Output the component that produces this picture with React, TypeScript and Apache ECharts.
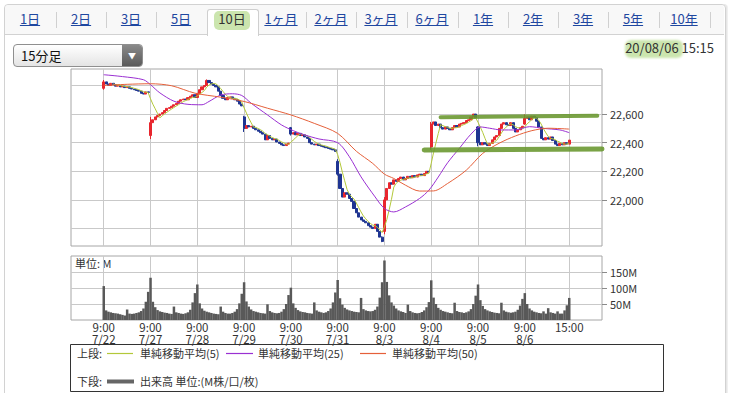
import React, { useEffect, useRef } from "react";
import * as echarts from "echarts";

// ---------- data ----------
const dayLabels = ["7/22", "7/27", "7/28", "7/29", "7/30", "7/31", "8/3", "8/4", "8/5", "8/6"];
const openTime = "9:00";
const closeTime = "15:00";
const barsPerDay = 20;
const padBefore = 14;
const padAfter = 14;

const dayOpens = [22780, 22450, 22716, 22580, 22505, 22270, 21780, 22370, 22510, 22530];

const close0722 = [22825, 22810, 22800, 22815, 22805, 22795, 22800, 22790, 22795, 22785, 22790, 22780, 22775, 22770, 22765, 22760, 22745, 22740, 22755, 22752];
const close0727 = [22540, 22560, 22580, 22590, 22600, 22610, 22625, 22640, 22645, 22655, 22665, 22675, 22690, 22700, 22705, 22700, 22715, 22725, 22735, 22716];
const close0728 = [22745, 22770, 22790, 22800, 22835, 22820, 22810, 22800, 22790, 22760, 22730, 22710, 22700, 22715, 22720, 22710, 22700, 22690, 22670, 22657];
const close0729 = [22500, 22520, 22510, 22515, 22500, 22490, 22480, 22470, 22460, 22420, 22450, 22430, 22420, 22425, 22405, 22395, 22385, 22380, 22390, 22397];
const close0730 = [22460, 22470, 22455, 22465, 22450, 22455, 22440, 22430, 22400, 22390, 22385, 22390, 22380, 22375, 22370, 22365, 22360, 22355, 22350, 22339];
const close0731 = [22180, 22080, 22020, 22050, 22040, 22010, 21990, 21940, 21910, 21880, 21860, 21850, 21840, 21820, 21810, 21800, 21830, 21780, 21740, 21710];
const close0803 = [22000, 22080, 22120, 22110, 22140, 22130, 22150, 22160, 22140, 22150, 22165, 22155, 22170, 22160, 22175, 22180, 22170, 22185, 22200, 22195];
const close0804 = [22530, 22545, 22520, 22530, 22505, 22495, 22510, 22500, 22490, 22505, 22520, 22510, 22530, 22535, 22540, 22555, 22560, 22580, 22600, 22574];
const close0805 = [22400, 22385, 22400, 22390, 22380, 22395, 22420, 22440, 22450, 22500, 22530, 22540, 22525, 22520, 22540, 22500, 22475, 22490, 22505, 22515];
const close0806 = [22570, 22580, 22560, 22585, 22575, 22550, 22510, 22430, 22420, 22435, 22425, 22440, 22415, 22390, 22380, 22395, 22385, 22400, 22390, 22418];

// [bar index, low, high] for bars with visible wicks
const wicks = [
  [0, 22770, 22838], [20, 22425, 22580], [44, 22800, 22842], [60, 22475, 22588],
  [80, 22450, 22510], [100, 22170, 22285], [119, 21705, 21745], [120, 21760, 22020],
  [140, 22350, 22545], [160, 22375, 22515], [180, 22525, 22598],
];

const vol0722 = [106, 30, 26, 24, 22, 21, 20, 18, 16, 14, 33, 20, 19, 20, 22, 24, 28, 36, 57, 88];
const vol0727 = [132, 57, 40, 31, 27, 25, 23, 22, 20, 19, 42, 24, 22, 20, 19, 21, 24, 32, 55, 84];
const vol0728 = [111, 52, 36, 29, 26, 24, 22, 20, 19, 18, 42, 26, 22, 20, 20, 22, 26, 34, 52, 82];
const vol0729 = [118, 58, 42, 33, 28, 26, 24, 22, 21, 20, 49, 28, 24, 22, 21, 22, 26, 34, 50, 78];
const vol0730 = [101, 52, 38, 31, 27, 25, 24, 22, 21, 20, 55, 30, 26, 24, 22, 24, 28, 36, 55, 86];
const vol0731 = [125, 68, 48, 38, 33, 30, 28, 26, 25, 24, 69, 34, 30, 28, 27, 28, 32, 42, 70, 118];
const vol0803 = [186, 119, 77, 55, 45, 36, 30, 27, 25, 22, 48, 28, 24, 22, 21, 22, 25, 30, 40, 56];
const vol0804 = [124, 70, 50, 38, 32, 28, 26, 24, 22, 21, 54, 28, 25, 24, 22, 24, 27, 34, 50, 76];
const vol0805 = [111, 62, 44, 34, 30, 27, 25, 23, 22, 21, 54, 30, 26, 24, 23, 24, 26, 32, 45, 66];
const vol0806 = [84, 50, 36, 30, 26, 24, 22, 21, 27, 20, 37, 24, 22, 20, 27, 20, 20, 30, 46, 69];

// moving averages: [bar index, value]
const ma25Points = [
  [0, 22875], [8, 22862], [17, 22840], [20, 22805], [24, 22748], [30, 22690], [36, 22668],
  [42, 22665], [45, 22688], [50, 22733], [55, 22742], [59, 22730], [63, 22676], [70, 22594],
  [76, 22524], [81, 22484], [86, 22454], [92, 22426], [100, 22400], [105, 22302], [110, 22161],
  [116, 22021], [120, 21940], [124, 21916], [129, 21951], [135, 22010], [139, 22068],
  [143, 22160], [147, 22260], [152, 22360], [157, 22460], [161, 22510], [165, 22501],
  [170, 22489], [176, 22489], [182, 22512], [188, 22500], [195, 22489], [199, 22470],
];
const ma50Points = [
  [0, 22800], [10, 22808], [20, 22812], [29, 22798], [39, 22746], [50, 22718], [60, 22688],
  [70, 22641], [80, 22594], [90, 22535], [100, 22465], [108, 22340], [115, 22255], [120, 22180],
  [124, 22150], [129, 22103], [135, 22062], [141, 22063], [147, 22115], [155, 22208],
  [162, 22325], [169, 22396], [176, 22447], [183, 22484], [190, 22501], [199, 22495],
];

const priceTicks = [21800, 22000, 22200, 22400, 22600, 22800];
const volTicks = [50, 100, 150];

// ---------- derived tables ----------
const allCloses = [close0722, close0727, close0728, close0729, close0730, close0731, close0803, close0804, close0805, close0806].flat();
const allVols = [vol0722, vol0727, vol0728, vol0729, vol0730, vol0731, vol0803, vol0804, vol0805, vol0806].flat();
const nBars = allCloses.length;
const nCats = padBefore + nBars + padAfter;

const cats: string[] = [];
const timeLabel: Record<string, string> = {};
const dateLabel: Record<string, string> = {};
for (let k = 0; k < nCats; k++) {
  const i = k - padBefore;
  let name = "p" + k;
  if (i >= 0 && i < nBars) {
    const d = Math.floor(i / barsPerDay);
    const j = i % barsPerDay;
    name = "d" + d + "b" + j;
    if (j === 0) {
      timeLabel[name] = openTime;
      dateLabel[name] = dayLabels[d];
    }
    if (i === nBars - 1) timeLabel[name] = closeTime;
  }
  cats.push(name);
}

const wickMap: Record<number, number[]> = {};
wicks.forEach((w) => (wickMap[w[0]] = [w[1], w[2]]));

const candleData: any[] = [];
const volData: any[] = [];
const ma5Data: any[] = [];
const ma25Data: any[] = [];
const ma50Data: any[] = [];
for (let k = 0; k < nCats; k++) {
  const i = k - padBefore;
  if (i < 0 || i >= nBars) {
    candleData.push("-");
    volData.push("-");
    ma5Data.push("-");
    ma25Data.push(null);
    ma50Data.push(null);
    continue;
  }
  const o = i % barsPerDay === 0 ? dayOpens[i / barsPerDay] : allCloses[i - 1];
  const c = allCloses[i];
  let lo = Math.min(o, c);
  let hi = Math.max(o, c);
  if (wickMap[i]) {
    lo = Math.min(lo, wickMap[i][0]);
    hi = Math.max(hi, wickMap[i][1]);
  }
  candleData.push([o, c, lo, hi]);
  volData.push(allVols[i]);
  if (i >= 4) {
    let s = 0;
    for (let q = i - 4; q <= i; q++) s += allCloses[q];
    ma5Data.push(Math.round(s / 5));
  } else ma5Data.push("-");
  ma25Data.push(null);
  ma50Data.push(null);
}
ma25Points.forEach(([i, v]) => (ma25Data[i + padBefore] = v));
ma50Points.forEach(([i, v]) => (ma50Data[i + padBefore] = v));

const FONT = "'Noto Sans CJK JP', 'Noto Sans', sans-serif";
const isGridCat = (idx: number) => !!timeLabel[cats[idx]];
const isDateCat = (idx: number) => !!dateLabel[cats[idx]];

export default function App() {
  const ref = useRef<HTMLDivElement>(null);
  useEffect(() => {
    document.body.style.margin = "0";
    const chart = echarts.init(ref.current!, undefined, { renderer: "svg" });
    const splitLine = { show: true, lineStyle: { color: "#c9c9c9", width: 1 } };
    const txt = (text: string, x: number, y: number) => ({
      type: "text", x, y,
      style: { text, fontSize: 11, fill: "#333", fontFamily: FONT, verticalAlign: "middle" },
    });
    chart.setOption({
      animation: false,
      textStyle: { fontFamily: FONT },
      grid: [
        { left: 71, top: 69, width: 531, height: 177, show: true, borderColor: "#a6a6a6", borderWidth: 1, backgroundColor: "#fff" },
        { left: 71, top: 256, width: 531, height: 64, show: true, borderColor: "#a6a6a6", borderWidth: 1, backgroundColor: "#fff" },
      ],
      xAxis: [
        {
          type: "category", gridIndex: 0, data: cats, boundaryGap: false,
          axisLine: { show: false }, axisTick: { show: false }, axisLabel: { show: false },
          splitLine: { ...splitLine, interval: (idx: number) => isGridCat(idx) },
        },
        {
          type: "category", gridIndex: 1, data: cats, boundaryGap: false,
          axisLine: { show: false }, axisTick: { show: false },
          axisLabel: {
            interval: (idx: number) => isGridCat(idx),
            formatter: (v: string) => timeLabel[v] || "",
            color: "#333", fontSize: 11.5, lineHeight: 12, margin: 1, fontFamily: FONT,
          },
          splitLine: { ...splitLine, interval: (idx: number) => isGridCat(idx) },
        },
        {
          type: "category", gridIndex: 1, data: cats, boundaryGap: false, position: "bottom",
          axisLine: { show: false }, axisTick: { show: false }, splitLine: { show: false },
          axisLabel: {
            interval: (idx: number) => isDateCat(idx),
            formatter: (v: string) => dateLabel[v] || "",
            color: "#333", fontSize: 11.5, lineHeight: 12, margin: 13, fontFamily: FONT,
          },
        },
      ],
      yAxis: [
        {
          type: "value", gridIndex: 0, position: "right", min: 21678, max: 22915, splitNumber: 6,
          axisLine: { show: false },
          axisTick: { show: true, length: 5, lineStyle: { color: "#8a8a8a" }, customValues: priceTicks },
          axisLabel: {
            customValues: priceTicks, showMinLabel: false, showMaxLabel: false,
            formatter: (v: number) => (priceTicks.indexOf(v) >= 0 ? v.toLocaleString("en-US") : ""),
            color: "#333", fontSize: 11, margin: 8, fontFamily: FONT,
          },
          splitLine,
        },
        {
          type: "value", gridIndex: 1, position: "right", min: 0, max: 200, interval: 50,
          axisLine: { show: false },
          axisTick: { show: true, length: 5, lineStyle: { color: "#8a8a8a" }, customValues: volTicks },
          axisLabel: {
            customValues: volTicks,
            formatter: (v: number) => (volTicks.indexOf(v) >= 0 ? v + "M" : ""),
            color: "#333", fontSize: 11, margin: 8, fontFamily: FONT,
          },
          splitLine,
        },
      ],
      series: [
        {
          type: "candlestick", xAxisIndex: 0, yAxisIndex: 0, data: candleData, barWidth: 2.6,
          itemStyle: { color: "#e8262e", color0: "#1f3592", borderColor: "#e8262e", borderColor0: "#1f3592", borderWidth: 1 },
          markLine: {
            silent: true, symbol: ["none", "none"], label: { show: false },
            lineStyle: { color: "rgba(104,150,44,0.88)", type: "solid", cap: "round" },
            data: [
              [{ coord: [158, 22578], lineStyle: { width: 4, color: "rgba(104,150,44,0.88)", type: "solid" } }, { coord: [225, 22589] }],
              [{ coord: [151, 22349], lineStyle: { width: 5, color: "rgba(104,150,44,0.88)", type: "solid" } }, { coord: [227, 22356] }],
            ],
          },
        },
        { type: "line", name: "単純移動平均(5)", xAxisIndex: 0, yAxisIndex: 0, data: ma5Data, symbol: "none", lineStyle: { color: "#b3c83a", width: 1 } },
        { type: "line", name: "単純移動平均(25)", xAxisIndex: 0, yAxisIndex: 0, data: ma25Data, connectNulls: true, smooth: 0.3, symbol: "none", lineStyle: { color: "#9a30d2", width: 1 } },
        { type: "line", name: "単純移動平均(50)", xAxisIndex: 0, yAxisIndex: 0, data: ma50Data, connectNulls: true, smooth: 0.3, symbol: "none", lineStyle: { color: "#e5603a", width: 1 } },
        { type: "bar", name: "出来高", xAxisIndex: 1, yAxisIndex: 1, data: volData, barWidth: 2.5, itemStyle: { color: "#595959" } },
      ],
      graphic: [
        { type: "text", left: 75, top: 257, style: { text: "単位: M", fontSize: 11, fill: "#333", fontFamily: FONT } },
        { type: "rect", shape: { x: 70.5, y: 344.5, width: 593, height: 47 }, style: { fill: "#fff", stroke: "#333", lineWidth: 1 } },
        txt("上段:", 77, 353),
        { type: "line", shape: { x1: 107, y1: 353.5, x2: 133, y2: 353.5 }, style: { stroke: "#b3c83a", lineWidth: 1.2 } },
        txt("単純移動平均(5)", 140, 353),
        { type: "line", shape: { x1: 226, y1: 353.5, x2: 253, y2: 353.5 }, style: { stroke: "#9a30d2", lineWidth: 1.2 } },
        txt("単純移動平均(25)", 258, 353),
        { type: "line", shape: { x1: 360, y1: 353.5, x2: 386, y2: 353.5 }, style: { stroke: "#e5603a", lineWidth: 1.2 } },
        txt("単純移動平均(50)", 392, 353),
        txt("下段:", 77, 381),
        { type: "line", shape: { x1: 107, y1: 381.5, x2: 134, y2: 381.5 }, style: { stroke: "#666", lineWidth: 4 } },
        txt("出来高 単位:(M株/口/枚)", 140, 381),
      ],
    });
    return () => chart.dispose();
  }, []);

  const tabs = ["1日", "2日", "3日", "5日", "10日", "1ヶ月", "2ヶ月", "3ヶ月", "6ヶ月", "1年", "2年", "3年", "5年", "10年"];
  const centers = [30, 81, 131, 181, 232, 281, 331, 381, 432, 483, 533, 583, 633, 684];
  const selected = 4;
  const seps: number[] = [];
  for (let i = 0; i < centers.length; i++) {
    if (i === selected || i === selected - 1) continue;
    const nx = i + 1 < centers.length ? (centers[i] + centers[i + 1]) / 2 : centers[i] + 26;
    seps.push(nx);
  }

  return (
    <div style={{ position: "absolute", left: 0, top: 0, width: 742, height: 393, overflow: "hidden", background: "#fff", fontFamily: FONT }}>
      {/* panel */}
      <div style={{ position: "absolute", left: 4, top: 4, width: 720, height: 420, border: "1px solid #d2d2d2", borderRadius: 4, boxShadow: "1px 0 0 #e6e6e6, 2px 0 0 #f0f0f0" }} />
      <div style={{ position: "absolute", left: 5, top: 5, width: 719, height: 29, background: "#f8f8f8", borderTopLeftRadius: 4, borderTopRightRadius: 4, borderBottom: "1px solid #d2d2d2" }} />
      {seps.map((x, i) => (
        <div key={"s" + i} style={{ position: "absolute", left: Math.round(x), top: 12, width: 1, height: 16, background: "#d0d0d0" }} />
      ))}
      <div style={{ position: "absolute", left: 207, top: 9, width: 50, height: 26, background: "#fff", border: "1px solid #cfcfcf", borderBottom: "none", borderRadius: "3px 3px 0 0" }} />
      <div style={{ position: "absolute", left: 214, top: 11, width: 36, height: 19, background: "rgba(168,212,120,0.6)", borderRadius: 5, filter: "blur(0.6px)" }} />
      {tabs.map((t, i) => (
        <div key={t} style={{ position: "absolute", left: centers[i], top: 10, transform: "translateX(-50%)", fontSize: 13, lineHeight: "18px", whiteSpace: "nowrap", color: i === selected ? "#333" : "#1f47a0", textDecoration: i === selected ? "none" : "underline" }}>{t}</div>
      ))}
      {/* dropdown */}
      <div style={{ position: "absolute", left: 13, top: 44, width: 128, height: 21, border: "1px solid #8f8f8f", borderRadius: 4, background: "linear-gradient(#ffffff, #e4e4e4)", overflow: "hidden" }}>
        <div style={{ position: "absolute", left: 7, top: 1, fontSize: 13, lineHeight: "19px", color: "#111" }}>15分足</div>
        <div style={{ position: "absolute", right: 0, top: 0, width: 20, height: 21, background: "linear-gradient(#8a8a8a, #5a5a5a)", color: "#fff", fontSize: 8, lineHeight: "21px", textAlign: "center" }}>▼</div>
      </div>
      {/* date */}
      <div style={{ position: "absolute", left: 625, top: 40, width: 58, height: 18, background: "rgba(168,212,120,0.6)", borderRadius: 6, filter: "blur(0.8px)" }} />
      <div style={{ position: "absolute", right: 28, top: 39, fontSize: 13, lineHeight: "18px", color: "#333", whiteSpace: "nowrap" }}>20/08/06 15:15</div>
      {/* chart */}
      <div ref={ref} style={{ position: "absolute", left: 0, top: 0, width: 742, height: 393 }} />
    </div>
  );
}
